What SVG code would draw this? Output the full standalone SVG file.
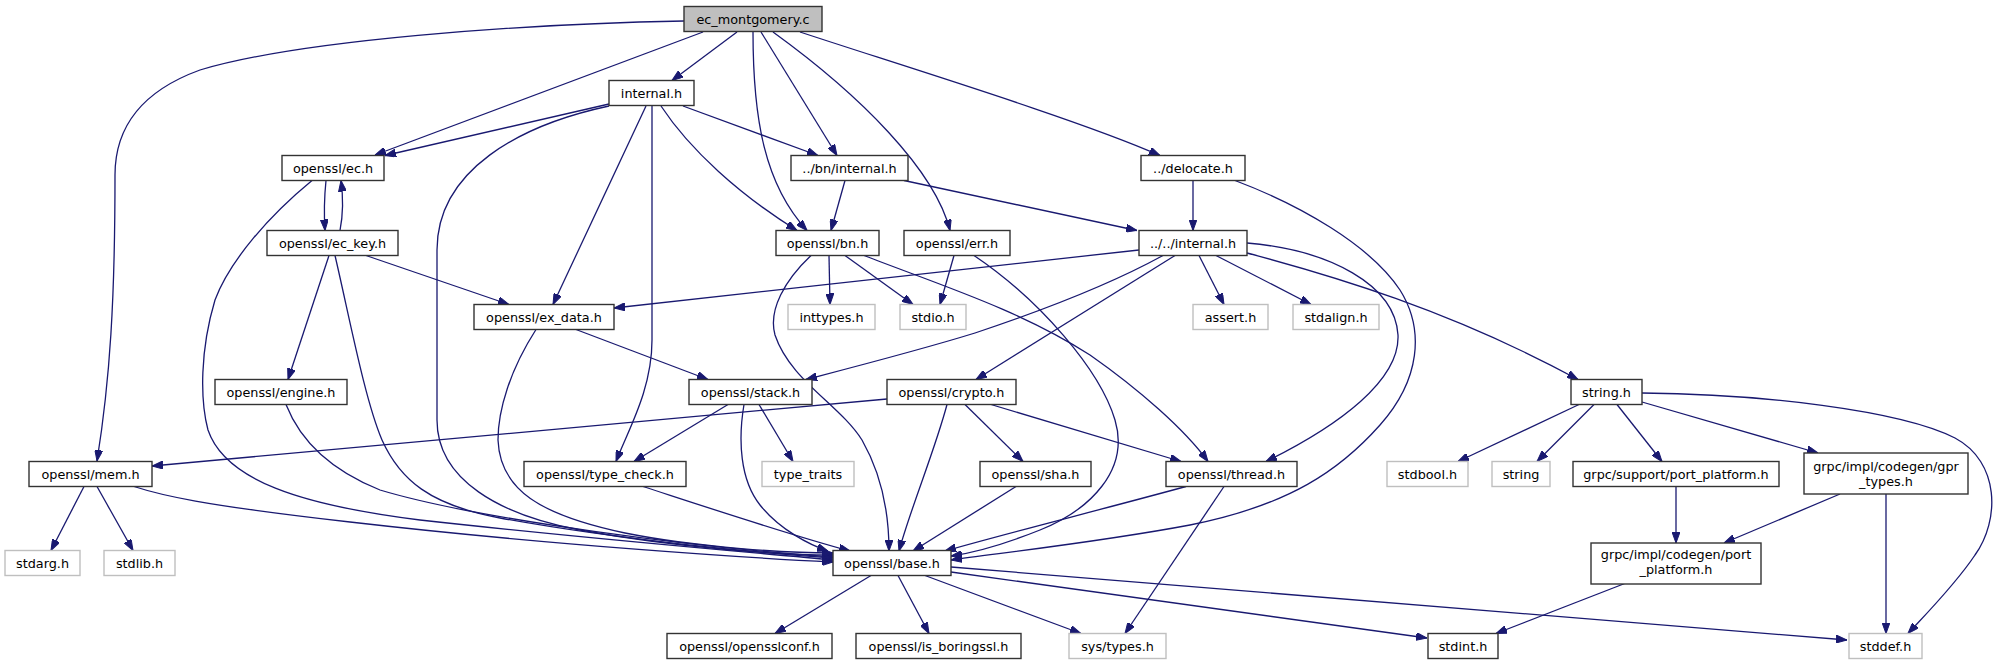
<svg xmlns="http://www.w3.org/2000/svg" width="2009" height="664" viewBox="0 0 2009 664">
<style>
.n rect{fill:#ffffff;stroke:#333333;stroke-width:1.4}
.n.u rect{stroke:#bfbfbf}
.n.r rect{fill:#bfbfbf}
.n text{font-family:"DejaVu Sans","Liberation Sans",sans-serif;font-size:12.8px;fill:#000000;text-anchor:middle}
.e path{fill:none;stroke:#191970;stroke-width:1.3;marker-end:url(#a)}
</style>
<defs>
<marker id="a" markerUnits="userSpaceOnUse" markerWidth="11" markerHeight="8" refX="11" refY="4" orient="auto"><path d="M0,0 L11,4 L0,8 z" fill="#191970" stroke="#191970" stroke-width="1"/></marker>
</defs>
<rect width="2009" height="664" fill="#ffffff"/>
<g id="edges" class="e">
<path d="M684,21 C520,24 300,40 200,70 C145,90 115,125 115,175 C115,300 110,380 97,461"/>
<path d="M703,32 L375,155"/>
<path d="M737,32 L672,80.5"/>
<path d="M753,32 C753,120 765,185 807,230.5"/>
<path d="M761,32 L837,155.5"/>
<path d="M773,32 C860,95 935,170 950,230.5"/>
<path d="M800,32 C900,65 1080,120 1160,155.5"/>
<path d="M609,104 L385,155.5"/>
<path d="M683,106 L818,155.5"/>
<path d="M661,106 C690,150 740,195 797,230.5"/>
<path d="M646,106 L553,304.5"/>
<path d="M652,106 L652,340 C652,390 628,430 616,461.5"/>
<path d="M609,106 C520,125 437,170 437,250 L437,420 C437,480 500,515 580,530 C680,548 780,555 833,555"/>
<path d="M326,180.5 C324,200 324,215 325,230.5"/>
<path d="M340,230.5 C343,215 343,195 341,180.5"/>
<path d="M312,180.5 C270,215 230,260 215,300 C200,350 200,400 208,430 C225,480 300,505 420,520 C600,540 760,553 833,560"/>
<path d="M366,255.5 L509,304.5"/>
<path d="M329,255.5 L288,379.5"/>
<path d="M335,255.5 C350,320 365,400 382,440 C400,480 430,505 500,518 C620,540 760,553 833,558"/>
<path d="M286,404.5 C300,440 330,470 380,490 C480,520 700,548 833,557"/>
<path d="M576,329.5 L708,379.5"/>
<path d="M536,329.5 C510,370 498,410 498,440 C500,490 540,515 625,533 C700,548 790,553 833,553"/>
<path d="M845,180.5 L831,230.5"/>
<path d="M904,180.5 L1137,230.5"/>
<path d="M1193,180.5 L1193,230.5"/>
<path d="M1235,180.5 C1300,205 1370,245 1400,290 C1425,330 1420,380 1380,425 C1340,470 1290,505 1190,525 C1100,542 1000,553 951,560"/>
<path d="M1139,250 L614,308"/>
<path d="M1163,255.5 C1100,290 1020,318 975,333 C920,350 850,368 806,379.5"/>
<path d="M1175,255.5 L976,379.5"/>
<path d="M1199,255.5 L1224,304.5"/>
<path d="M1216,255.5 L1311,304.5"/>
<path d="M1247,253 C1330,275 1450,310 1578,379.5"/>
<path d="M1247,243 C1330,250 1395,285 1398,335 C1400,380 1340,425 1266,461.5"/>
<path d="M829,255.5 L830,304.5"/>
<path d="M845,255.5 L913,304.5"/>
<path d="M864,255.5 C940,285 1020,310 1090,355 C1140,390 1185,430 1208,461.5"/>
<path d="M811,255.5 C785,280 768,310 775,335 C790,380 840,405 862,440 C882,475 889,515 889,551"/>
<path d="M954,255.5 L940,304.5"/>
<path d="M974,255.5 C1040,300 1100,370 1115,420 C1130,470 1090,510 1040,530 C1010,542 980,552 951,556"/>
<path d="M728,404.5 L634,461.5"/>
<path d="M759,404.5 L793,461.5"/>
<path d="M744,404.5 C738,440 740,480 760,505 C780,530 810,545 828,551"/>
<path d="M643,486.5 C700,505 790,535 850,551"/>
<path d="M887,399 L152,466"/>
<path d="M947,404.5 C935,450 910,510 899,551"/>
<path d="M965,404.5 L1023,461.5"/>
<path d="M991,404.5 L1181,461.5"/>
<path d="M84,486.5 L51,550.5"/>
<path d="M97,486.5 L133,550.5"/>
<path d="M134,486.5 C160,495 200,505 350,522 C550,545 750,558 833,562"/>
<path d="M1016,486.5 L913,551"/>
<path d="M1186,486.5 C1100,510 1000,535 945,551"/>
<path d="M1224,486.5 L1125,633.5"/>
<path d="M871,575.5 L775,633.5"/>
<path d="M898,575.5 L929,633.5"/>
<path d="M925,575.5 L1081,633.5"/>
<path d="M951,572 L1427,638"/>
<path d="M951,567 L1847,640"/>
<path d="M1579,404.5 L1458,461.5"/>
<path d="M1594,404.5 L1537,461.5"/>
<path d="M1617,404.5 L1662,461.5"/>
<path d="M1642,402 L1818,453"/>
<path d="M1642,393 C1760,394 1900,410 1955,438 C2000,462 2000,520 1975,555 C1955,585 1925,615 1908,633.5"/>
<path d="M1676,486.5 L1676,543"/>
<path d="M1840,494 L1724,543"/>
<path d="M1886,494 L1886,633.5"/>
<path d="M1626,583 L1496,633.5"/>
</g>
<g id="n_ec_montgomery_c" class="n r"><rect x="684" y="6.5" width="138" height="25"/><text x="753" y="23.5">ec_montgomery.c</text></g>
<g id="n_internal_h" class="n"><rect x="609" y="80.5" width="85" height="25"/><text x="651.5" y="97.5">internal.h</text></g>
<g id="n_openssl_ec_h" class="n"><rect x="282" y="155.5" width="102" height="25"/><text x="333" y="172.5">openssl/ec.h</text></g>
<g id="n_bn_internal_h" class="n"><rect x="791" y="155.5" width="117" height="25"/><text x="849.5" y="172.5">../bn/internal.h</text></g>
<g id="n_delocate_h" class="n"><rect x="1141" y="155.5" width="104" height="25"/><text x="1193" y="172.5">../delocate.h</text></g>
<g id="n_openssl_ec_key_h" class="n"><rect x="267" y="230.5" width="131" height="25"/><text x="332.5" y="247.5">openssl/ec_key.h</text></g>
<g id="n_openssl_bn_h" class="n"><rect x="776" y="230.5" width="103" height="25"/><text x="827.5" y="247.5">openssl/bn.h</text></g>
<g id="n_openssl_err_h" class="n"><rect x="904" y="230.5" width="106" height="25"/><text x="957" y="247.5">openssl/err.h</text></g>
<g id="n_internal2_h" class="n"><rect x="1139" y="230.5" width="108" height="25"/><text x="1193" y="247.5">../../internal.h</text></g>
<g id="n_openssl_ex_data_h" class="n"><rect x="474" y="304.5" width="140" height="25"/><text x="544" y="321.5">openssl/ex_data.h</text></g>
<g id="n_inttypes_h" class="n u"><rect x="788" y="304.5" width="87" height="25"/><text x="831.5" y="321.5">inttypes.h</text></g>
<g id="n_stdio_h" class="n u"><rect x="900" y="304.5" width="66" height="25"/><text x="933" y="321.5">stdio.h</text></g>
<g id="n_assert_h" class="n u"><rect x="1193" y="304.5" width="75" height="25"/><text x="1230.5" y="321.5">assert.h</text></g>
<g id="n_stdalign_h" class="n u"><rect x="1293" y="304.5" width="86" height="25"/><text x="1336" y="321.5">stdalign.h</text></g>
<g id="n_openssl_engine_h" class="n"><rect x="215" y="379.5" width="132" height="25"/><text x="281" y="396.5">openssl/engine.h</text></g>
<g id="n_openssl_stack_h" class="n"><rect x="689" y="379.5" width="123" height="25"/><text x="750.5" y="396.5">openssl/stack.h</text></g>
<g id="n_openssl_crypto_h" class="n"><rect x="887" y="379.5" width="129" height="25"/><text x="951.5" y="396.5">openssl/crypto.h</text></g>
<g id="n_string_h" class="n"><rect x="1571" y="379.5" width="71" height="25"/><text x="1606.5" y="396.5">string.h</text></g>
<g id="n_openssl_mem_h" class="n"><rect x="29" y="461.5" width="123" height="25"/><text x="90.5" y="478.5">openssl/mem.h</text></g>
<g id="n_openssl_type_check_h" class="n"><rect x="524" y="461.5" width="162" height="25"/><text x="605" y="478.5">openssl/type_check.h</text></g>
<g id="n_type_traits" class="n u"><rect x="762" y="461.5" width="92" height="25"/><text x="808" y="478.5">type_traits</text></g>
<g id="n_openssl_sha_h" class="n"><rect x="980" y="461.5" width="111" height="25"/><text x="1035.5" y="478.5">openssl/sha.h</text></g>
<g id="n_openssl_thread_h" class="n"><rect x="1166" y="461.5" width="131" height="25"/><text x="1231.5" y="478.5">openssl/thread.h</text></g>
<g id="n_stdbool_h" class="n u"><rect x="1387" y="461.5" width="81" height="25"/><text x="1427.5" y="478.5">stdbool.h</text></g>
<g id="n_string" class="n u"><rect x="1492" y="461.5" width="58" height="25"/><text x="1521" y="478.5">string</text></g>
<g id="n_grpc_support_port_platform_h" class="n"><rect x="1573" y="461.5" width="206" height="25"/><text x="1676" y="478.5">grpc/support/port_platform.h</text></g>
<g id="n_gpr_types_h" class="n"><rect x="1804" y="453" width="164" height="41"/><text x="1886" y="471">grpc/impl/codegen/gpr</text><text x="1886" y="485.5">_types.h</text></g>
<g id="n_stdarg_h" class="n u"><rect x="5" y="550.5" width="75" height="25"/><text x="42.5" y="567.5">stdarg.h</text></g>
<g id="n_stdlib_h" class="n u"><rect x="104" y="550.5" width="71" height="25"/><text x="139.5" y="567.5">stdlib.h</text></g>
<g id="n_openssl_base_h" class="n"><rect x="833" y="550.5" width="118" height="25"/><text x="892" y="567.5">openssl/base.h</text></g>
<g id="n_codegen_port_platform_h" class="n"><rect x="1591" y="543" width="170" height="41"/><text x="1676" y="559">grpc/impl/codegen/port</text><text x="1676" y="573.5">_platform.h</text></g>
<g id="n_openssl_opensslconf_h" class="n"><rect x="667" y="633.5" width="165" height="25"/><text x="749.5" y="650.5">openssl/opensslconf.h</text></g>
<g id="n_openssl_is_boringssl_h" class="n"><rect x="856" y="633.5" width="165" height="25"/><text x="938.5" y="650.5">openssl/is_boringssl.h</text></g>
<g id="n_sys_types_h" class="n u"><rect x="1069" y="633.5" width="97" height="25"/><text x="1117.5" y="650.5">sys/types.h</text></g>
<g id="n_stdint_h" class="n"><rect x="1428" y="633.5" width="70" height="25"/><text x="1463" y="650.5">stdint.h</text></g>
<g id="n_stddef_h" class="n u"><rect x="1849" y="633.5" width="73" height="25"/><text x="1885.5" y="650.5">stddef.h</text></g>
</svg>
